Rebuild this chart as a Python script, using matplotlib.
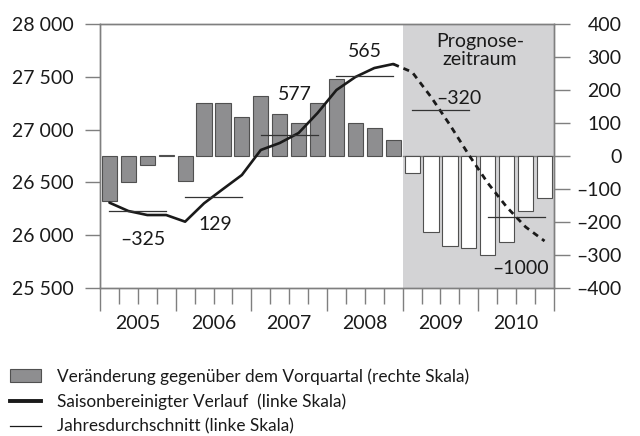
import matplotlib
matplotlib.use("Agg")
import matplotlib.pyplot as plt
import matplotlib.transforms as mtransforms
from matplotlib.patches import Patch
from matplotlib.lines import Line2D

plt.rcParams['font.family'] = ['Lato', 'DejaVu Sans']

# data (quarters 2005 Q1 .. 2010 Q4)
years = ["2005", "2006", "2007", "2008", "2009", "2010"]
change_qoq = [-135, -80, -28, 3, -77, 160, 160, 117, 182, 126, 101, 160,
              233, 100, 84, 48, -50, -230, -274, -279, -300, -261, -167, -127]
level_sa = [26308, 26229, 26191, 26191, 26128, 26302, 26437, 26570, 26807, 26873, 26968, 27157,
            27375, 27498, 27583, 27621, 27545, 27309, 27044, 26760, 26494, 26267, 26078, 25945]
annual_avg = [26229, 26365, 26946, 27508, 27189, 26175]
avg_change = ["\u2013325", "129", "577", "565", "\u2013320", "\u20131000"]
n_hist = 16  # quarters up to 2008 Q4, rest is forecast

AX_COLOR = "#7f7f7f"
BAR_COLOR = "#8e8e90"
SHADE = "#d3d3d5"
FS = 14
FS_LEG = 12.4

fig = plt.figure(figsize=(6.4, 4.36), dpi=100)
ax = fig.add_axes([100 / 640, 1 - 288 / 436, 454 / 640, 264 / 436])
ax2 = ax.twinx()
ax.set_zorder(ax2.get_zorder() + 1)
ax.patch.set_visible(False)

# forecast shading + bars (right scale)
n = len(change_qoq)
ax2.axvspan(n_hist, n, color=SHADE, zorder=0, lw=0)
ax2.plot([n_hist, n], [0, 0], color=AX_COLOR, lw=1, zorder=1)
xs = [i + 0.5 for i in range(n)]
for i in range(n):
    fc = BAR_COLOR if i < n_hist else "white"
    ax2.bar(xs[i], change_qoq[i], width=0.8, color=fc, edgecolor="#505050", lw=0.8, zorder=2)

# seasonally adjusted level (left scale)
ax.plot(xs[:n_hist], level_sa[:n_hist], color="#1a1a1a", lw=1.9, solid_capstyle="round")
ax.plot(xs[n_hist - 1:], level_sa[n_hist - 1:], color="#1a1a1a", lw=2.0,
        linestyle=(0, (2.2, 1.8)))

# annual averages
for k, v in enumerate(annual_avg):
    ax.plot([4 * k + 0.5, 4 * k + 3.5], [v, v], color="#333333", lw=0.9)

# labels for the change of annual averages
label_pos = [(2.27, 25955), (6.08, 26106), (10.31, 27337), (14.0, 27735), (18.98, 27290), (22.25, 25680)]
for txt, (x, y) in zip(avg_change, label_pos):
    ax.text(x, y, txt, ha="center", va="center", fontsize=FS, color="#1a1a1a")

ax.text(20.09, 27749, "Prognose-\nzeitraum", ha="center", va="center", fontsize=FS,
        color="#1a1a1a", linespacing=1.05)

# axes
ax.set_xlim(0, n)
ax.set_ylim(25500, 28000)
ax2.set_ylim(-400, 400)
for a in (ax, ax2):
    for s in a.spines.values():
        s.set_color(AX_COLOR)
        s.set_linewidth(1)

left_ticks = [25500, 26000, 26500, 27000, 27500, 28000]
ax.set_yticks(left_ticks)
ax.set_yticklabels([f"{t // 1000} {t % 1000:03d}" for t in left_ticks])
ax.tick_params(axis="y", direction="out", length=11, width=1, color=AX_COLOR, pad=8,
               labelsize=FS, labelcolor="#1a1a1a")

right_ticks = [-400, -300, -200, -100, 0, 100, 200, 300, 400]
ax2.set_yticks(right_ticks)
ax2.set_yticklabels([str(t).replace("-", "\u2013") for t in right_ticks])
ax2.tick_params(axis="y", direction="out", length=11.5, width=1, color=AX_COLOR, pad=37,
                labelsize=FS, labelcolor="#1a1a1a")
for lab in ax2.get_yticklabels():
    lab.set_horizontalalignment("right")

ax.set_xticks(range(0, n + 1, 4))
ax.set_xticks([i for i in range(n + 1) if i % 4], minor=True)
ax.set_xticklabels([])
ax.tick_params(axis="x", which="major", direction="out", length=16.5, width=1, color=AX_COLOR)
ax.tick_params(axis="x", which="minor", direction="out", length=11.5, width=1, color=AX_COLOR)
ax2.tick_params(axis="x", which="both", length=0)

trans = mtransforms.blended_transform_factory(ax.transData, ax.transAxes)
for k, y in enumerate(years):
    ax.text(4 * k + 2, -0.1326, y, transform=trans, ha="center", va="center",
            fontsize=FS, color="#1a1a1a")

# legend
handles = [Patch(facecolor=BAR_COLOR, edgecolor="#505050", lw=0.8),
           Line2D([], [], color="#1a1a1a", lw=2.8),
           Line2D([], [], color="#1a1a1a", lw=0.9)]
labels = ["Veränderung gegenüber dem Vorquartal (rechte Skala)",
          "Saisonbereinigter Verlauf  (linke Skala)",
          "Jahresdurchschnitt (linke Skala)"]
fig.legend(handles, labels, loc="upper left", bbox_to_anchor=(0.0, 1 - 358 / 436),
           frameon=False, fontsize=FS_LEG, handlelength=1.8, handleheight=0.8,
           handletextpad=0.9, labelspacing=0.5, borderpad=0.3, borderaxespad=0.3,
           labelcolor="#1a1a1a")

fig.savefig("out.png", dpi=100)
